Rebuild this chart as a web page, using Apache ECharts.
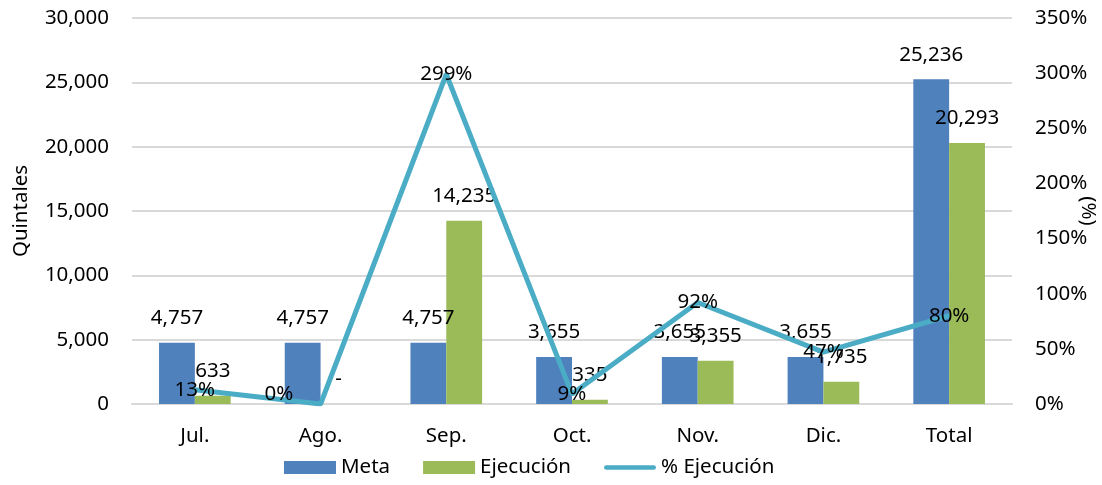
<!DOCTYPE html>
<html>
<head>
<meta charset="utf-8">
<script src="https://cdn.jsdelivr.net/npm/echarts@6/dist/echarts.min.js"></script>
<style>
  html, body { margin: 0; padding: 0; background: #fff; }
  #chart { width: 1102px; height: 485px; }
</style>
</head>
<body>
<div id="chart"></div>
<script>
var categories = ['Jul.', 'Ago.', 'Sep.', 'Oct.', 'Nov.', 'Dic.', 'Total'];
var meta = [4757, 4757, 4757, 3655, 3655, 3655, 25236];
var ejecucion = [633, 0, 14235, 335, 3355, 1735, 20293];
var pctEjecucion = [13, 0, 299, 9, 92, 47, 80];

var font = 'Noto Sans';
var fs = 20.5;
function fmt(v) {
    return v === 0 ? '-' : v.toLocaleString('en-US');
}

// la etiqueta 0% va corrida a la izquierda como en el original
var pctData = pctEjecucion.map(function (v) {
    if (v === 0) {
        return { value: v, label: { position: [-54, -18] } };
    }
    return v;
});

var option = {
    animation: false,
    color: ['#4f81bd', '#9bbb59', '#4bacc6'],
    textStyle: { fontFamily: font },
    grid: { left: 132, right: 90, top: 18, bottom: 81, outerBoundsMode: 'none' },
    legend: {
        bottom: 2,
        left: 279,
        itemWidth: 52,
        itemHeight: 13,
        itemGap: 33,
        textStyle: { fontSize: fs, color: '#000', fontFamily: font },
        data: [
            { name: 'Meta', icon: 'rect' },
            { name: 'Ejecución', icon: 'rect' },
            { name: '% Ejecución', icon: 'path://M2.5,0 H52.5 A2.5,2.5 0 0 1 52.5,5 H2.5 A2.5,2.5 0 0 1 2.5,0 Z' }
        ]
    },
    xAxis: {
        type: 'category',
        data: categories,
        axisTick: { show: false },
        axisLine: { lineStyle: { color: '#d9d9d9', width: 2 } },
        axisLabel: { color: '#000', fontSize: fs, margin: 22 }
    },
    yAxis: [
        {
            type: 'value',
            min: 0,
            max: 30000,
            interval: 5000,
            name: 'Quintales',
            nameLocation: 'middle',
            nameRotate: 90,
            nameGap: 100,
            nameMoveOverlap: false,
            nameTextStyle: { fontSize: fs, color: '#000' },
            axisLabel: {
                color: '#000', fontSize: fs, margin: 23,
                formatter: function (v) { return v.toLocaleString('en-US'); }
            },
            splitLine: { lineStyle: { color: '#d9d9d9', width: 2 } }
        },
        {
            type: 'value',
            min: 0,
            max: 350,
            interval: 50,
            name: '(%)',
            nameLocation: 'middle',
            nameRotate: -90,
            nameGap: 65,
            nameMoveOverlap: false,
            nameTextStyle: { fontSize: fs, color: '#000' },
            axisLabel: { color: '#000', fontSize: fs, margin: 23, formatter: '{value}%' },
            splitLine: { show: false }
        }
    ],
    series: [
        {
            name: 'Meta',
            type: 'bar',
            data: meta,
            barGap: 0,
            barCategoryGap: '43%',
            label: {
                show: true, position: 'top', distance: 14,
                color: '#000', fontSize: fs, formatter: function (p) { return fmt(p.value); }
            }
        },
        {
            name: 'Ejecución',
            type: 'bar',
            data: ejecucion,
            label: {
                show: true, position: 'top', distance: 14,
                color: '#000', fontSize: fs, formatter: function (p) { return fmt(p.value); }
            }
        },
        {
            name: '% Ejecución',
            type: 'line',
            yAxisIndex: 1,
            data: pctData,
            symbol: 'circle',
            symbolSize: 4,
            showSymbol: true,
            itemStyle: { color: '#4bacc6' },
            lineStyle: { width: 5, color: '#4bacc6' },
            label: {
                show: true, position: 'inside',
                color: '#000', fontSize: fs, formatter: '{c}%'
            },
            labelLayout: { hideOverlap: false },
            z: 3
        }
    ]
};

var myChart = echarts.init(document.getElementById('chart'));
myChart.setOption(option);
</script>
</body>
</html>
